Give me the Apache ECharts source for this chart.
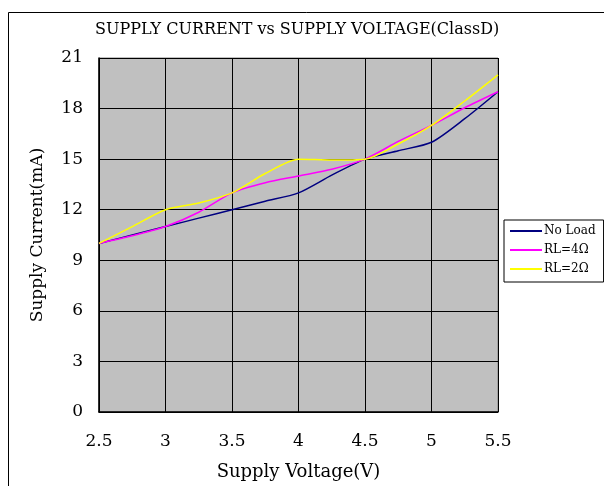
<!DOCTYPE html>
<html><head><meta charset="utf-8">
<script src="https://cdn.jsdelivr.net/npm/echarts@6/dist/echarts.min.js"></script>
<style>html,body{margin:0;padding:0;background:#fff}#c{width:604px;height:486px}</style>
</head><body><div id="c"></div>
<script>
const voltages = [2.5, 2.75, 3, 3.25, 3.5, 3.75, 4, 4.25, 4.5, 4.75, 5, 5.25, 5.5];
const noLoad = [10, 10.5, 11, 11.5, 12, 12.5, 13, 14.05, 15, 15.5, 16, 17.4, 19];
const rl4 = [10, 10.45, 11, 11.85, 13, 13.6, 14, 14.4, 15, 16.05, 17, 18.05, 19];
const rl2 = [10, 11, 12, 12.4, 13, 14.15, 15, 14.95, 15, 15.9, 17, 18.45, 20];
const seriesNames = ['No Load', 'RL=4Ω', 'RL=2Ω'];
const seriesColors = ['#000080', '#ff00ff', '#ffff00'];
const xTicks = ['2.5', '3', '3.5', '4', '4.5', '5', '5.5'];
const yTicks = [0, 3, 6, 9, 12, 15, 18, 21];
const titleText = 'SUPPLY CURRENT vs SUPPLY VOLTAGE(ClassD)';
const xName = 'Supply Voltage(V)';
const yName = 'Supply Current(mA)';

const F = '"DejaVu Serif", "Liberation Serif", serif';
const chart = echarts.init(document.getElementById('c'));
const allData = [noLoad, rl4, rl2];
chart.setOption({
  animation: false,
  backgroundColor: '#fff',
  title: { text: titleText, left: 90, top: 17, padding: 5,
    textStyle: { fontFamily: F, fontSize: 16, fontWeight: 'normal', color: '#000' } },
  graphic: [{ type: 'rect', left: 6, top: 10, shape: { width: 700, height: 600 }, z: -10,
    style: { fill: 'none', stroke: '#000', lineWidth: 1 } }],
  grid: { left: 99, top: 58, right: 106, bottom: 69, show: true, backgroundColor: '#c0c0c0',
    borderColor: '#808080', borderWidth: 1 },
  legend: {
    data: seriesNames, orient: 'vertical', left: 504, top: 220, itemWidth: 32, itemHeight: 2, itemGap: 7,
    backgroundColor: '#fff', borderColor: '#000', borderWidth: 1, padding: [5, 8, 7, 6],
    icon: 'rect', textStyle: { fontFamily: F, fontSize: 12, color: '#000', padding: [0, 0, 0, -3] }
  },
  xAxis: {
    type: 'value', min: 2.5, max: 5.5, interval: 0.5,
    name: xName, nameLocation: 'middle', nameGap: 51,
    nameTextStyle: { fontFamily: F, fontSize: 18, color: '#000' },
    axisLine: { show: true, onZero: false, lineStyle: { color: '#000', width: 1.5 } },
    axisTick: { show: false },
    splitLine: { show: true, lineStyle: { color: '#000', width: 1 } },
    axisLabel: { fontFamily: F, fontSize: 17, color: '#000', margin: 21,
      formatter: v => { const s = String(+v.toFixed(2)); return xTicks.includes(s) ? s : ''; } }
  },
  yAxis: {
    type: 'value', min: 0, max: 21, interval: 3,
    name: yName, nameLocation: 'middle', nameGap: 53, nameRotate: 90,
    nameTextStyle: { fontFamily: F, fontSize: 17, color: '#000' },
    axisLine: { show: true, lineStyle: { color: '#000', width: 1.5 } },
    axisTick: { show: true, inside: true, length: 5, lineStyle: { color: '#000' } },
    splitLine: { show: true, lineStyle: { color: '#000', width: 1 } },
    axisLabel: { fontFamily: F, fontSize: 17, color: '#000', margin: 16,
      formatter: v => yTicks.includes(v) ? String(v) : '' }
  },
  series: seriesNames.map((n, i) => ({
    name: n, type: 'line', smooth: 0.25, showSymbol: false, symbol: 'none',
    data: voltages.map((v, j) => [v, allData[i][j]]),
    lineStyle: { color: seriesColors[i], width: 1.5 }, itemStyle: { color: seriesColors[i] }
  }))
});
</script></body></html>
